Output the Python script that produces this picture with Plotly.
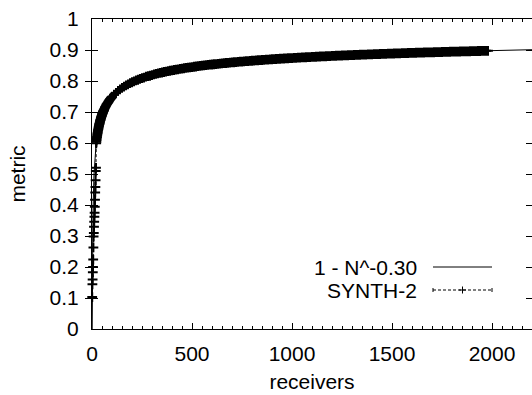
import plotly.graph_objects as go

# ---- data ----
# curve "1 - N^-0.30": receivers vs metric
curve_n = [1, 2, 3, 5, 10, 20, 30, 50, 75, 100, 150, 200, 300, 400, 500,
           750, 1000, 1500, 2000, 2200]
curve_v = [0.0, 0.188, 0.281, 0.383, 0.499, 0.593, 0.640, 0.691, 0.726, 0.749,
           0.778, 0.796, 0.819, 0.834, 0.845, 0.863, 0.874, 0.889, 0.898, 0.901]

# SYNTH-2 measurements
synth_n = (list(range(1, 60)) + list(range(60, 101, 2)) + list(range(110, 1981, 10)))
synth_v = [
    # N = 1..20
    0.103, 0.144, 0.160, 0.183, 0.200, 0.224, 0.263, 0.298, 0.310, 0.330,
    0.346, 0.362, 0.375, 0.394, 0.417, 0.440, 0.458, 0.480, 0.510, 0.520,
    # N = 21..59
    0.599, 0.604, 0.610, 0.615, 0.619, 0.624, 0.628, 0.632, 0.636, 0.640,
    0.643, 0.646, 0.650, 0.653, 0.656, 0.659, 0.661, 0.664, 0.667, 0.669,
    0.672, 0.674, 0.676, 0.679, 0.681, 0.683, 0.685, 0.687, 0.689, 0.691,
    0.693, 0.694, 0.696, 0.698, 0.699, 0.701, 0.703, 0.704, 0.706,
    # N = 60..100 step 2
    0.707, 0.710, 0.713, 0.716, 0.718, 0.720, 0.723, 0.725, 0.727, 0.729,
    0.731, 0.733, 0.735, 0.737, 0.739, 0.741, 0.742, 0.744, 0.746, 0.747,
    0.749,
    # N = 110..200
    0.756, 0.762, 0.768, 0.773, 0.778, 0.782, 0.786, 0.789, 0.793, 0.796,
    # N = 210..300
    0.799, 0.802, 0.804, 0.807, 0.809, 0.811, 0.814, 0.816, 0.817, 0.819,
    # N = 310..400
    0.8211, 0.8228, 0.8244, 0.8260, 0.8275, 0.8290, 0.8304, 0.8318, 0.8331, 0.8343,
    # N = 410..500
    0.8355, 0.8367, 0.8378, 0.8389, 0.8400, 0.8411, 0.8421, 0.8431, 0.8441, 0.8450,
    # N = 510..600
    0.8459, 0.8468, 0.8477, 0.8485, 0.8494, 0.8502, 0.8510, 0.8517, 0.8525, 0.8533,
    # N = 610..700
    0.8540, 0.8547, 0.8554, 0.8561, 0.8567, 0.8574, 0.8580, 0.8586, 0.8593, 0.8599,
    # N = 710..800
    0.8605, 0.8611, 0.8617, 0.8622, 0.8628, 0.8633, 0.8639, 0.8644, 0.8649, 0.8654,
    # N = 810..900
    0.8659, 0.8664, 0.8669, 0.8674, 0.8678, 0.8683, 0.8688, 0.8692, 0.8697, 0.8701,
    # N = 910..1000
    0.8705, 0.8709, 0.8714, 0.8718, 0.8722, 0.8726, 0.8730, 0.8734, 0.8737, 0.8741,
    # N = 1010..1100
    0.8745, 0.8748, 0.8752, 0.8756, 0.8759, 0.8763, 0.8766, 0.8770, 0.8773, 0.8777,
    # N = 1110..1200
    0.8780, 0.8783, 0.8787, 0.8790, 0.8793, 0.8796, 0.8799, 0.8802, 0.8805, 0.8808,
    # N = 1210..1300
    0.8811, 0.8814, 0.8817, 0.8819, 0.8822, 0.8825, 0.8828, 0.8830, 0.8833, 0.8836,
    # N = 1310..1400
    0.8839, 0.8841, 0.8844, 0.8846, 0.8849, 0.8852, 0.8854, 0.8857, 0.8859, 0.8862,
    # N = 1410..1500
    0.8864, 0.8867, 0.8869, 0.8871, 0.8874, 0.8876, 0.8878, 0.8881, 0.8883, 0.8885,
    # N = 1510..1600
    0.8887, 0.8889, 0.8892, 0.8894, 0.8896, 0.8898, 0.8900, 0.8903, 0.8905, 0.8907,
    # N = 1610..1700
    0.8909, 0.8911, 0.8913, 0.8915, 0.8917, 0.8919, 0.8921, 0.8923, 0.8924, 0.8926,
    # N = 1710..1800
    0.8928, 0.8930, 0.8932, 0.8934, 0.8936, 0.8937, 0.8939, 0.8941, 0.8943, 0.8945,
    # N = 1810..1900
    0.8947, 0.8948, 0.8950, 0.8952, 0.8953, 0.8955, 0.8957, 0.8958, 0.8960, 0.8962,
    # N = 1910..1980
    0.8963, 0.8965, 0.8967, 0.8968, 0.8970, 0.8971, 0.8973, 0.8974,
]

legend_labels = ["1 - N^-0.30", "SYNTH-2"]
x_title = "receivers"
y_title = "metric"

FONT = "Liberation Sans, Arial, sans-serif"
FS = 21
DASH = "3px,2px"

fig = go.Figure()
fig.add_trace(go.Scatter(
    x=curve_n, y=curve_v, mode="lines", name=legend_labels[0],
    line=dict(color="black", width=1), showlegend=False,
))
fig.add_trace(go.Scatter(
    x=synth_n, y=synth_v, mode="lines+markers", name=legend_labels[1],
    line=dict(color="black", width=1, dash=DASH),
    marker=dict(symbol="cross-thin", size=7, line=dict(color="black", width=2)),
    cliponaxis=False, showlegend=False,
))
# empty trace to activate the top (mirror) x axis that carries the minor ticks
fig.add_trace(go.Scatter(x=[], y=[], xaxis="x2", showlegend=False, hoverinfo="skip"))

# plot area in pixels: x 92..532, y 19..329
L, R, T, B = 92, 532, 19, 329
W, H = R - L, B - T
def px(x):
    return (x - L) / W
def py(y):
    return (B - y) / H

# manual gnuplot-style key (text on the left, sample on the right)
rows_y = [267, 290]
for lab, yy in zip(legend_labels, rows_y):
    fig.add_annotation(text=lab, xref="paper", yref="paper", x=px(419), y=py(yy),
                       xanchor="right", yanchor="middle", showarrow=False,
                       font=dict(family=FONT, size=FS, color="black"))
fig.add_shape(type="line", xref="paper", yref="paper", x0=px(433), x1=px(492),
              y0=py(rows_y[0]), y1=py(rows_y[0]), line=dict(color="black", width=1))
fig.add_shape(type="line", xref="paper", yref="paper", x0=px(433), x1=px(492),
              y0=py(rows_y[1]), y1=py(rows_y[1]), line=dict(color="black", width=1, dash=DASH))
for xe in (433, 492):
    fig.add_shape(type="line", xref="paper", yref="paper", x0=px(xe), x1=px(xe),
                  y0=py(rows_y[1] - 2), y1=py(rows_y[1] + 2), line=dict(color="black", width=1))
fig.add_shape(type="line", xref="paper", yref="paper", x0=px(459), x1=px(466),
              y0=py(rows_y[1]), y1=py(rows_y[1]), line=dict(color="black", width=1))
fig.add_shape(type="line", xref="paper", yref="paper", x0=px(462.5), x1=px(462.5),
              y0=py(rows_y[1] - 3.5), y1=py(rows_y[1] + 3.5), line=dict(color="black", width=1))

tick_common = dict(
    range=[0, 2200], dtick=500, tick0=0,
    showgrid=False, zeroline=False,
    showline=True, linecolor="black", linewidth=1,
    ticks="inside", ticklen=6, tickcolor="black", tickwidth=1,
    minor=dict(dtick=50, ticks="inside", ticklen=3, tickcolor="black", tickwidth=1, showgrid=False),
)

fig.update_layout(
    width=532, height=395,
    margin=dict(l=L, r=532 - R, t=T, b=395 - B, pad=0),
    paper_bgcolor="white", plot_bgcolor="white",
    font=dict(family=FONT, size=FS, color="black"),
    showlegend=False,
    xaxis=dict(
        **tick_common,
        tickfont=dict(family=FONT, size=FS, color="black"),
        ticklabelstandoff=6,
        title=dict(text=x_title, font=dict(family=FONT, size=FS, color="black"), standoff=10),
    ),
    xaxis2=dict(
        **tick_common,
        overlaying="x", side="top", anchor="y", showticklabels=False,
    ),
    yaxis=dict(
        range=[0, 1], dtick=0.1, tick0=0,
        showgrid=False, zeroline=False,
        showline=True, linecolor="black", linewidth=1, mirror="allticks",
        ticks="inside", ticklen=6, tickcolor="black", tickwidth=1,
        tickfont=dict(family=FONT, size=FS, color="black"),
        ticklabelstandoff=8,
        title=dict(text=y_title, font=dict(family=FONT, size=FS, color="black"), standoff=18),
    ),
)

fig.write_html("out.html", config={"displayModeBar": False})
